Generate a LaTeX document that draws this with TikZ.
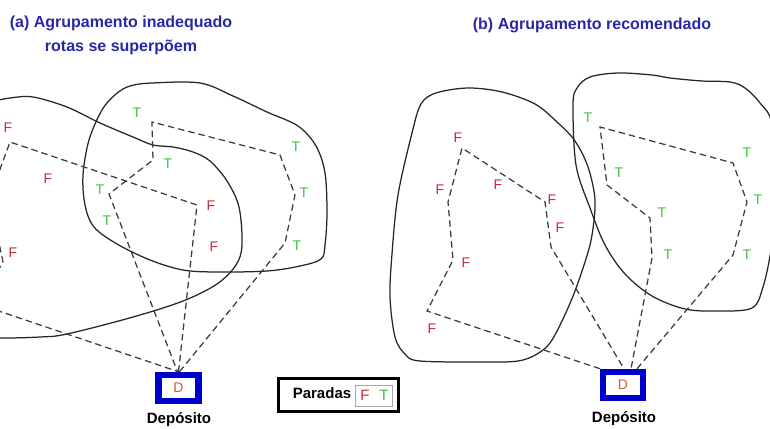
\documentclass[tikz,border=0pt]{standalone}
\usepackage{fontspec}
\setmainfont{Liberation Sans}
\definecolor{titleblue}{RGB}{40,40,165}
\definecolor{depblue}{RGB}{0,0,205}
\definecolor{fred}{RGB}{205,40,60}
\definecolor{tgreen}{RGB}{60,195,60}
\definecolor{dorange}{RGB}{200,95,50}
\definecolor{routegray}{RGB}{60,60,60}
\tikzset{
  region/.style={draw=black!85, line width=1.25pt},
  route/.style={draw=routegray, line width=1.25pt, dash pattern=on 6.5pt off 4pt},
  flabel/.style={text=fred, font=\fontsize{14}{16}\selectfont, inner sep=0pt},
  tlabel/.style={text=tgreen, font=\fontsize{14}{16}\selectfont, inner sep=0pt},
  title/.style={text=titleblue, font=\bfseries\fontsize{16}{24}\selectfont, align=center, inner sep=0pt},
  depot/.style={draw=depblue, fill=white, line width=6.5pt, minimum width=40pt, minimum height=26pt, inner sep=0pt, text=dorange, font=\fontsize{14}{16}\selectfont},
  deplabel/.style={font=\bfseries\fontsize{15}{17}\selectfont, inner sep=0pt},
}
\begin{document}
\begin{tikzpicture}[x=1pt,y=-1pt]
\useasboundingbox (0,0) rectangle (770,428);
\fill[white] (0,0) rectangle (770,428);

% titles
\node[title] (ta) at (121,35) {(a) Agrupamento inadequado\\rotas se superpõem};
\node[title] (tb) at (592,25) {(b) Agrupamento recomendado};

% depots
\node[depot] (DA) at (178.5,388) {D};
\node[depot] (DB) at (623,385) {D};
\node[deplabel] (DAl) at (179,420) {Depósito};
\node[deplabel] (DBl) at (624,419) {Depósito};

% route corners
\coordinate (fa1) at (197,205);
\coordinate (fa2) at (10,142);
\coordinate (fa3) at (-1,172);
\coordinate (fa4) at (-8,210);
\coordinate (fa5) at (3,262);
\coordinate (fa6) at (-22,304);

\coordinate (ta1) at (285,243);
\coordinate (ta2) at (295,195);
\coordinate (ta3) at (280,155);
\coordinate (ta4) at (152,122);
\coordinate (ta5) at (153,160);
\coordinate (ta6) at (109,194);

\coordinate (fb1) at (427,311);
\coordinate (fb2) at (453,260);
\coordinate (fb3) at (448,202);
\coordinate (fb4) at (462,148);
\coordinate (fb5) at (545,202);
\coordinate (fb6) at (551,247);

\coordinate (tb1) at (733,255);
\coordinate (tb2) at (747,202);
\coordinate (tb3) at (733,163);
\coordinate (tb4) at (600,127);
\coordinate (tb5) at (607,185);
\coordinate (tb6) at (650,218);
\coordinate (tb7) at (652,258);

\begin{scope}
\clip (0,0) rectangle (770,428);
% regions (a)
\draw[region] plot[smooth cycle, tension=0.55] coordinates {
 (-40,108) (-10,102) (10,98) (33,97) (67,107) (100,123) (133,137) (153,145) (173,147)
 (193,152) (210,161) (227,181) (239,207) (242,245) (236,265) (217,284)
 (183,301) (133,317) (67,334) (40,337) (0,338) (-30,336)};
\draw[region] plot[smooth cycle, tension=0.55] coordinates {
 (83,175) (89,140) (102,110) (116,94) (130,86) (152,83) (200,83) (233,96)
 (267,112) (298,126) (316,146) (325,173) (327,213) (325,245) (321,259)
 (300,266) (267,271) (217,272) (183,270) (150,260) (117,244) (94,227) (85,205)};
% regions (b)
\draw[region] plot[smooth cycle, tension=0.55] coordinates {
 (412,133) (421,104) (436,93) (468,88) (502,92) (535,104) (557,122)
 (575,141) (588,167) (595,200) (592,235) (585,262) (571,301) (552,340)
 (537,354) (518,361) (485,362) (420,361) (405,354) (395,337) (390,297)
 (392,254) (398,195)};
\draw[region] plot[smooth cycle, tension=0.55] coordinates {
 (576,165) (573,105) (577,88) (590,77) (618,73) (652,75) (670,78)
 (702,81) (730,82) (745,88) (760,103) (772,125) (777,200) (771,250)
 (763,287) (752,308) (718,311) (685,309) (652,296) (625,274) (605,245)
 (590,208)};

% routes (a)
\draw[route] (DA.north) -- (fa1) -- (fa2) -- (fa3) -- (fa4) -- (fa5) -- (fa6) -- (DA.north);
\draw[route] ([xshift=1pt]DA.north) -- (ta1) -- (ta2) -- (ta3) -- (ta4) -- (ta5) -- (ta6) -- ([xshift=-1pt]DA.north);
% routes (b)
\draw[route] ([xshift=-23pt]DB.north) -- (fb1) -- (fb2) -- (fb3) -- (fb4) -- (fb5) -- (fb6) -- ([xshift=1pt]DB.north);
\draw[route] ([xshift=14pt]DB.north) -- (tb1) -- (tb2) -- (tb3) -- (tb4) -- (tb5) -- (tb6) -- (tb7) -- ([xshift=8pt]DB.north);
\end{scope}

% stop labels (a)
\node[flabel] (aF1) at (8,128) {F};
\node[flabel] (aF2) at (48,179) {F};
\node[flabel] (aF3) at (13,253) {F};
\node[flabel] (aF4) at (211,206) {F};
\node[flabel] (aF5) at (214,247) {F};
\node[tlabel] (aT1) at (137,113) {T};
\node[tlabel] (aT2) at (168,164) {T};
\node[tlabel] (aT3) at (100,190) {T};
\node[tlabel] (aT4) at (107,221) {T};
\node[tlabel] (aT5) at (296,147) {T};
\node[tlabel] (aT6) at (304,193) {T};
\node[tlabel] (aT7) at (297,246) {T};

% stop labels (b)
\node[flabel] (bF1) at (458,138) {F};
\node[flabel] (bF2) at (440,190) {F};
\node[flabel] (bF3) at (498,185) {F};
\node[flabel] (bF4) at (552,200) {F};
\node[flabel] (bF5) at (560,228) {F};
\node[flabel] (bF6) at (466,263) {F};
\node[flabel] (bF7) at (432,329) {F};
\node[tlabel] (bT1) at (588,118) {T};
\node[tlabel] (bT2) at (619,173) {T};
\node[tlabel] (bT3) at (662,213) {T};
\node[tlabel] (bT4) at (668,255) {T};
\node[tlabel] (bT5) at (747,153) {T};
\node[tlabel] (bT6) at (758,200) {T};
\node[tlabel] (bT7) at (747,255) {T};

% legend
\node[draw=black, line width=2.5pt, minimum width=120pt, minimum height=33pt, inner sep=0pt] (leg) at (338.5,395) {};
\node[font=\bfseries\fontsize{15}{17}\selectfont, inner sep=0pt] (legtxt) at (322,393) {Paradas};
\node[draw=gray!70, line width=1pt, minimum width=37pt, minimum height=21pt, inner sep=0pt] (legbox) at (374,396) {};
\node[text=fred, font=\fontsize{15}{17}\selectfont, inner sep=0pt] (legF) at (365,395) {F};
\node[text=tgreen, font=\fontsize{15}{17}\selectfont, inner sep=0pt] (legT) at (384,395) {T};
\end{tikzpicture}
\end{document}
